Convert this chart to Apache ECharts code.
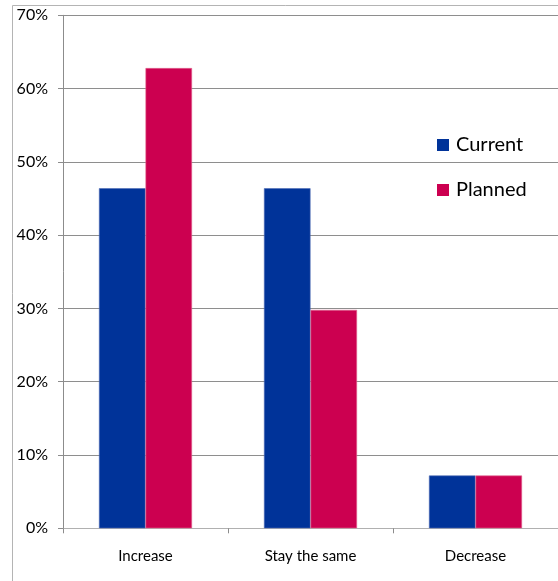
<!DOCTYPE html>
<html>
<head>
<meta charset="utf-8">
<script src="https://cdn.jsdelivr.net/npm/echarts@6/dist/echarts.min.js"></script>
<style>
  html, body { margin: 0; padding: 0; background: #fff; }
  #chart { width: 558px; height: 581px; }
</style>
</head>
<body>
<div id="chart"></div>
<script>
// Share of respondents by expected change
const categories = ['Increase', 'Stay the same', 'Decrease'];
const currentValues = [46.4, 46.4, 7.2];
const plannedValues = [62.8, 29.8, 7.2];
const seriesNames = ['Current', 'Planned'];

const FONT = 'Lato, "Open Sans", sans-serif';

const chart = echarts.init(document.getElementById('chart'));
chart.setOption({
  animation: false,
  backgroundColor: '#ffffff',
  graphic: [{
    type: 'rect',
    shape: { x: 12.5, y: 5.5, width: 700, height: 700 },
    style: { fill: 'none', stroke: '#b4b4b4', lineWidth: 1 },
    z: -1
  }],
  grid: { left: 63, right: 0, top: 15.3, bottom: 52.7, containLabel: false },
  legend: {
    orient: 'vertical',
    left: 432,
    top: 130,
    itemWidth: 12,
    itemHeight: 12,
    itemGap: 25,
    icon: 'rect',
    itemStyle: { borderWidth: 0 },
    textStyle: { fontFamily: FONT, fontSize: 20, color: '#000', padding: [0, 0, 0, 2] },
    data: seriesNames
  },
  xAxis: {
    type: 'category',
    data: categories,
    axisLine: { show: true, lineStyle: { color: '#b0b0b0', width: 1 } },
    axisTick: { show: true, length: 5, alignWithLabel: false, lineStyle: { color: '#8c8c8c' } },
    axisLabel: { fontFamily: FONT, fontSize: 15, color: '#000', margin: 20 },
    splitLine: { show: false }
  },
  yAxis: {
    type: 'value',
    min: 0,
    max: 70,
    interval: 10,
    axisLine: { show: true, lineStyle: { color: '#8c8c8c', width: 1 } },
    axisTick: { show: true, length: 5, lineStyle: { color: '#8c8c8c' } },
    axisLabel: { fontFamily: FONT, fontSize: 16, color: '#000', margin: 15, formatter: '{value}%' },
    splitLine: { show: true, lineStyle: { color: '#8e8e8e', width: 1 } }
  },
  series: [
    {
      name: seriesNames[0],
      type: 'bar',
      data: currentValues,
      barGap: '0%',
      barCategoryGap: '43.6%',
      itemStyle: { color: '#003399', borderColor: '#4d6ab3', borderWidth: 0.6 }
    },
    {
      name: seriesNames[1],
      type: 'bar',
      data: plannedValues,
      barGap: '0%',
      barCategoryGap: '43.6%',
      itemStyle: { color: '#cc0050', borderColor: '#e0668f', borderWidth: 0.6 }
    }
  ]
});
</script>
</body>
</html>
